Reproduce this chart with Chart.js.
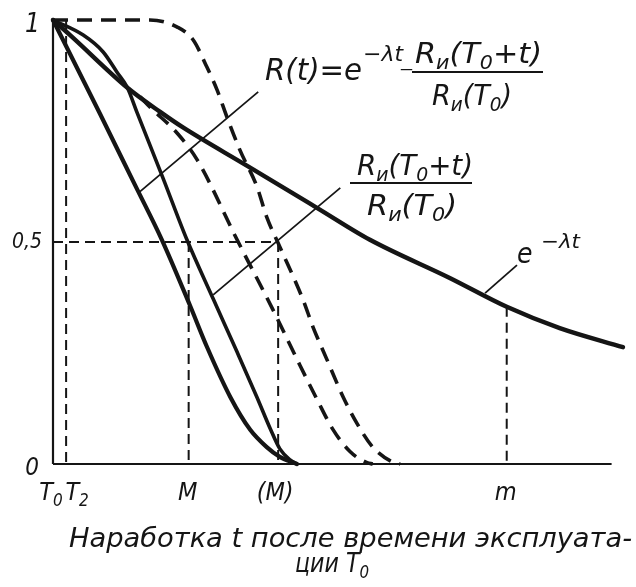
<!DOCTYPE html>
<html>
<head>
<meta charset="utf-8">
<script src="https://cdn.jsdelivr.net/npm/chart.js@4.4.1/dist/chart.umd.min.js"></script>
<style>
  html, body { margin: 0; padding: 0; background: #fff; }
  #wrap { width: 636px; height: 587px; }
</style>
</head>
<body>
<div id="wrap"><canvas id="c" width="636" height="587"></canvas></div>
<script>
// ---------- data (x in arbitrary time units, y = reliability) ----------
const xTicks       = [0, 2.3, 23.8, 39.5, 79.6];
const xTickLabels  = [[['T',''],['0','sub']], [['T',''],['2','sub']], [['M','']], [['(M)','']], [['m','']]];
const yTicks       = [0, 0.5, 1];
const yTickLabels  = ['0', '0,5', '1'];

// e^{-λt}
const expT = [0, 3.0, 13.0, 18.8, 22.8, 34.0, 46.3, 55.6, 69.6, 79.6, 88.9, 100];
const expR = [1.0, 0.966, 0.848, 0.793, 0.758, 0.672, 0.577, 0.505, 0.419, 0.354, 0.306, 0.263];
// R(t)
const rtT = [0, 8.2, 14.4, 19.1, 24.0, 27.0, 31.1, 34.6, 37.5, 39.8, 42.8];
const rtR = [1.0, 0.79, 0.628, 0.505, 0.358, 0.264, 0.151, 0.077, 0.038, 0.016, 0.0];
// Rи(T0+t)/Rи(T0)
const riT = [0, 5.3, 8.8, 11.2, 13.0, 14.7, 19.3, 23.5, 28.1, 32.3, 35.8, 38.1, 39.8, 41.6, 42.8];
const riR = [1.0, 0.966, 0.928, 0.883, 0.849, 0.793, 0.644, 0.505, 0.372, 0.252, 0.150, 0.080, 0.034, 0.009, 0.0];
// dashed curves
const dOutT = [0, 17.0, 21.8, 24.6, 27.0, 28.8, 30.5, 32.8, 35.8, 37.5, 39.8, 43.9, 45.6, 48.1, 50.9, 53.3, 56.1, 59.6, 60.9];
const dOutR = [1.0, 1.0, 0.984, 0.955, 0.894, 0.842, 0.782, 0.707, 0.624, 0.556, 0.489, 0.369, 0.309, 0.234, 0.151, 0.092, 0.038, 0.004, 0.0];
const dInT  = [15.3, 17.0, 21.8, 25.3, 32.3, 38.6, 43.3, 46.3, 49.1, 52.1, 55.1, 56.1];
const dInR  = [0.827, 0.804, 0.745, 0.685, 0.505, 0.347, 0.223, 0.146, 0.078, 0.028, 0.003, 0.0];
// guide lines: vertical from value down to 0 at T2, M, (M), m; horizontal at 0.5
const guideX   = [2.3, 23.8, 39.5, 79.6];
const guideTop = [1.0, 0.5, 0.5, 0.354];
const halfLevel = 0.5;
// leader lines from curves to the formula labels
const leaderA = [[15.2, 0.613], [36.0, 0.838]];
const leaderB = [[28.1, 0.381], [50.4, 0.622]];
const leaderC = [[75.8, 0.385], [81.4, 0.448]];
const xAxisEnd = 98;

// ---------- build datasets ----------
const pts = (xs, ys) => xs.map((x, i) => ({x, y: ys[i]}));
const INK = '#151515';
const solid = (data, w) => ({data, borderColor: INK, borderWidth: w, pointRadius: 0,
  showLine: true, cubicInterpolationMode: 'monotone', borderCapStyle: 'round', borderJoinStyle: 'round', clip: false});
const dashed = (data, w, dash) => ({data, borderColor: INK, borderWidth: w, pointRadius: 0,
  showLine: true, cubicInterpolationMode: 'monotone', borderDash: dash, borderCapStyle: 'butt', clip: false});
const straight = (data, w, dash) => ({data, borderColor: INK, borderWidth: w, pointRadius: 0,
  showLine: true, tension: 0, borderDash: dash || [], clip: false});

const datasets = [];
// axes
datasets.push(straight([{x: 0, y: 0}, {x: 0, y: 1}], 2.2));
datasets.push(straight([{x: 0, y: 0}, {x: xAxisEnd, y: 0}], 2.2));
// guides
guideX.forEach((gx, i) => datasets.push(straight([{x: gx, y: guideTop[i]}, {x: gx, y: 0}], 2, [10, 6])));
datasets.push(straight([{x: 0, y: halfLevel}, {x: guideX[2], y: halfLevel}], 2, [10, 6]));
// leaders
[leaderA, leaderB, leaderC].forEach(l => datasets.push(straight(l.map(p => ({x: p[0], y: p[1]})), 1.8)));
// curves
datasets.push(dashed(pts(dOutT, dOutR), 3.6, [15, 9]));
datasets.push(dashed(pts(dInT, dInR), 3.6, [15, 9]));
datasets.push(solid(pts(expT, expR), 4.4));
datasets.push(solid(pts(rtT, rtR), 4.2));
datasets.push(solid(pts(riT, riR), 3.6));

// ---------- text helpers ----------
const FAM = '"DejaVu Sans Condensed", "Liberation Sans Narrow", "DejaVu Sans", sans-serif';
const fnt = s => `italic ${s}px ${FAM}`;
function richWidth(ctx, parts, size) {
  let w = 0;
  parts.forEach(([t, k]) => {
    const s = k === 'sub' || k === 'sup' ? size * 0.68 : size;
    ctx.font = fnt(s); w += ctx.measureText(t).width;
  });
  return w;
}
function drawRich(ctx, parts, x, y, size, opt) {
  opt = opt || {};
  const natural = richWidth(ctx, parts, size);
  const sx = opt.width ? opt.width / natural : 1;
  let left = x;
  if (opt.align === 'center') left = x - natural * sx / 2;
  ctx.save();
  ctx.translate(left, y);
  ctx.scale(sx, 1);
  ctx.fillStyle = INK;
  ctx.textBaseline = 'alphabetic';
  let cx = 0;
  parts.forEach(([t, k]) => {
    let s = size, dy = 0;
    if (k === 'sub') { s = size * 0.68; dy = size * 0.22; }
    if (k === 'sup') { s = size * 0.68; dy = -size * 0.5; }
    ctx.font = fnt(s);
    ctx.fillText(t, cx, dy);
    cx += ctx.measureText(t).width;
  });
  ctx.restore();
}

const textPlugin = {
  id: 'texts',
  beforeDraw(chart) {
    const ctx = chart.ctx;
    ctx.save(); ctx.fillStyle = '#fff'; ctx.fillRect(0, 0, chart.width, chart.height); ctx.restore();
  },
  afterDraw(chart) {
    const ctx = chart.ctx, xs = chart.scales.x, ys = chart.scales.y;
    // y tick labels
    const ySize = [24, 21, 26], yOff = [11, 6, 12], yRight = [39, 42, 40];
    yTicks.forEach((v, i) => {
      const py = ys.getPixelForValue(v);
      ctx.font = fnt(ySize[i]);
      const w = ctx.measureText(yTickLabels[i]).width;
      drawRich(ctx, [[yTickLabels[i], '']], yRight[i] - w, py + yOff[i], ySize[i]);
    });
    // x tick labels
    const xShift = [-2, 11, -1, -3, -1];
    const base = ys.getPixelForValue(0) + 36;
    xTicks.forEach((v, i) => {
      drawRich(ctx, xTickLabels[i], xs.getPixelForValue(v) + xShift[i], base, 25, {align: 'center'});
    });
    // axis title
    drawRich(ctx, [['Наработка t после времени эксплуата-', '']], 69, 547, 27, {width: 563});
    drawRich(ctx, [['ции T', ''], ['0', 'sub']], 295, 572, 27, {width: 74});
    // formula for R(t)
    drawRich(ctx, [['R(t)=e', '']], 265, 80, 30, {width: 97});
    drawRich(ctx, [['−λt', '']], 363, 61, 21, {width: 40});
    drawRich(ctx, [['_', '']], 401, 66, 18, {width: 11});
    drawRich(ctx, [['R', ''], ['и', 'sub'], ['(T', ''], ['0', 'sub'], ['+t)', '']], 415, 63, 28, {width: 127});
    ctx.save(); ctx.strokeStyle = INK; ctx.lineWidth = 2;
    ctx.beginPath(); ctx.moveTo(412, 72); ctx.lineTo(543, 72); ctx.stroke();
    ctx.beginPath(); ctx.moveTo(350, 183); ctx.lineTo(472, 183); ctx.stroke();
    ctx.restore();
    drawRich(ctx, [['R', ''], ['и', 'sub'], ['(T', ''], ['0', 'sub'], [')', '']], 432, 105, 28, {width: 80});
    // ratio label
    drawRich(ctx, [['R', ''], ['и', 'sub'], ['(T', ''], ['0', 'sub'], ['+t)', '']], 357, 175, 28, {width: 116});
    drawRich(ctx, [['R', ''], ['и', 'sub'], ['(T', ''], ['0', 'sub'], [')', '']], 367, 215, 28, {width: 90});
    // e^{-λt} label
    drawRich(ctx, [['e', '']], 517, 263, 28);
    drawRich(ctx, [['−λt', '']], 541, 248, 20, {width: 39});
  }
};

new Chart(document.getElementById('c'), {
  type: 'scatter',
  data: { datasets },
  options: {
    responsive: false,
    animation: false,
    events: [],
    layout: { padding: { left: 53, right: 13, top: 20, bottom: 123 } },
    plugins: { legend: { display: false }, tooltip: { enabled: false } },
    scales: {
      x: { type: 'linear', min: 0, max: 100, display: false },
      y: { type: 'linear', min: 0, max: 1, display: false }
    }
  },
  plugins: [textPlugin]
});
</script>
</body>
</html>
